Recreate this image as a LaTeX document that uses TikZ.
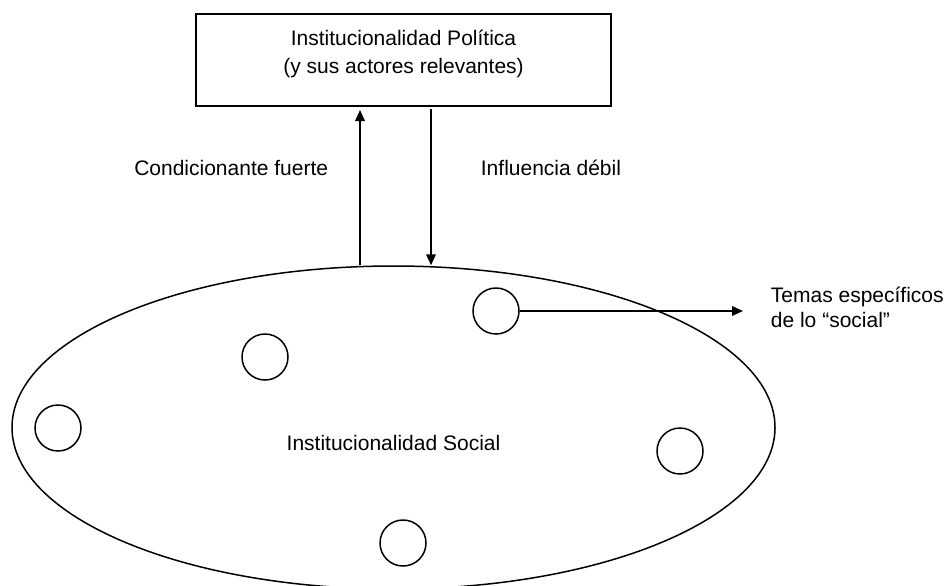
\documentclass[tikz,border=0pt]{standalone}
\usepackage{fontspec}
\setmainfont{Liberation Sans}
\usetikzlibrary{shapes.geometric,arrows.meta,positioning}

\begin{document}
\begin{tikzpicture}[x=0.5pt,y=-0.5pt,->,>={Triangle[length=5.5pt,width=4.8pt]},line width=0.9pt,font=\fontsize{10.5}{14}\selectfont]
    \tikzstyle{polbox}=[rectangle,draw,line width=1pt,minimum width=207.5pt,minimum height=46pt,inner sep=0pt]
    \tikzstyle{socellipse}=[ellipse,draw,line width=0.75pt,minimum width=381.5pt,minimum height=161.5pt,inner sep=0pt]
    \tikzstyle{tema}=[circle,draw,line width=0.75pt,minimum size=23pt,inner sep=0pt]
    \tikzstyle{annot}=[inner sep=0pt]

    \useasboundingbox (0,0) rectangle (946,585);

    % Draw the political box and the social ellipse
    \node[polbox, label={[annot,align=center,anchor=north,yshift=-8pt]north:Institucionalidad Política\\(y sus actores relevantes)}] (pol) at (403.5,60) {};
    \node[socellipse, label={[annot,yshift=-7.75pt]center:Institucionalidad Social}] (soc) at (393.5,427.5) {};

    % Draw the topic circles
    \foreach \name/\x/\y in {1/496/311,2/265/357,3/58/428,4/680/451,5/403/543}
        \node[tema] (T-\name) at (\x,\y) {};

    \node[annot, align=left, anchor=west, font=\fontsize{10.5}{12.5}\selectfont] (temas) at (770,307) {Temas específicos\\de lo “social”};
    \draw[shorten >=13.5pt] (T-1) -- (T-1 -| temas.west);

    % Connect the ellipse with the box
    \draw[shorten >=1.5pt] ([xshift=-16.75pt]soc.north) -- ([xshift=-16.75pt]soc.north |- pol.south);
    \draw[shorten <=1pt] ([xshift=18.75pt]soc.north |- pol.south) -- ([xshift=18.75pt]soc.north);

    % Annotate the arrows
    \node[annot, anchor=east] (cond) at (329,168) {Condicionante fuerte};
    \node[annot, anchor=west] (infl) at (480,168) {Influencia débil};
\end{tikzpicture}
\end{document}
